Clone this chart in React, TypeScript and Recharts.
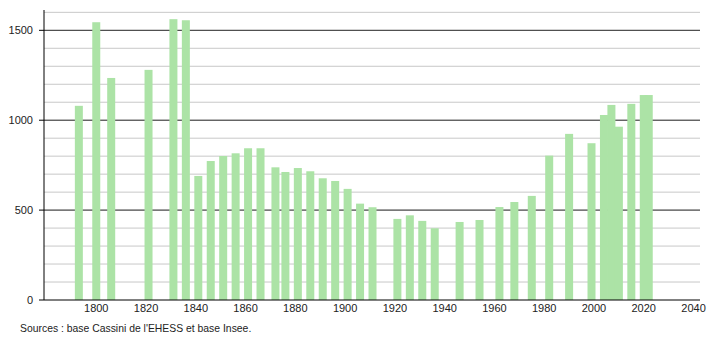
import { BarChart, Bar, XAxis, YAxis, CartesianGrid } from 'recharts';

const years = [
  1793, 1800, 1806, 1821, 1831, 1836, 1841, 1846, 1851, 1856, 1861, 1866, 1872, 1876, 1881,
  1886, 1891, 1896, 1901, 1906, 1911, 1921, 1926, 1931, 1936, 1946, 1954, 1962, 1968, 1975,
  1982, 1990, 1999, 2004, 2007, 2010, 2015, 2020, 2022,
];

const population = [
  1080, 1545, 1235, 1280, 1562, 1556, 690, 773, 801, 816, 844, 844, 738, 712, 734,
  716, 677, 662, 618, 536, 516, 451, 471, 440, 399, 434, 445, 517, 545, 579,
  803, 924, 872, 1029, 1085, 964, 1091, 1140, 1140,
];

const yearTicks = [1800, 1820, 1840, 1860, 1880, 1900, 1920, 1940, 1960, 1980, 2000, 2020, 2040];
const majorTicks = [0, 500, 1000, 1500];
const minorTicks = [0, 100, 200, 300, 400, 500, 600, 700, 800, 900, 1000, 1100, 1200, 1300, 1400, 1500, 1600];
const yMax = 1613;

const data = years.map((year, i) => ({ year, pop: population[i] }));

const font = { fontSize: 11, fill: '#222', fontFamily: '"Liberation Sans", Arial, sans-serif' };

// fixed 8px bars centred on the census year
const FixedBar = (props: any) => {
  const { x, y, width, height } = props;
  if (height == null || height <= 0) return null;
  const cx = x + width / 2;
  return <rect x={cx - 4} y={y} width={8} height={height} fill="#ace3a6" />;
};

const NoLabel = () => <g />;

// horizontal grid lines only at the given values (the 0 line is the axis itself)
const gridAt = (values: number[]) => (args: any) => {
  const { yAxis, offset } = args;
  const s = yAxis?.scale;
  return values
    .filter((v) => v > 0)
    .map((v) => {
      if (typeof s === 'function') return s(v);
      if (s && typeof s.map === 'function') return s.map(v);
      return offset.top + offset.height * (1 - v / yMax);
    });
};

export default function App() {
  return (
    <div style={{ position: 'absolute', left: 0, top: 0, width: 710, height: 340, background: '#fff' }}>
      <BarChart
        width={710}
        height={340}
        data={data}
        margin={{ top: 10, right: 10, left: 8, bottom: 10 }}
      >
        <CartesianGrid
          yAxisId="minor"
          vertical={false}
          stroke="#c8c8c8"
          horizontalCoordinatesGenerator={gridAt(minorTicks)}
        />
        <CartesianGrid
          yAxisId="major"
          vertical={false}
          stroke="#333"
          horizontalCoordinatesGenerator={gridAt(majorTicks)}
        />
        <XAxis
          dataKey="year"
          type="number"
          domain={[1779, 2042.6]}
          ticks={yearTicks}
          allowDataOverflow
          height={30}
          tickLine={false}
          tickSize={0}
          tickMargin={4}
          axisLine={{ stroke: '#000' }}
          tick={font}
          interval={0}
        />
        <YAxis
          yAxisId="minor"
          width={0}
          domain={[0, yMax]}
          ticks={minorTicks}
          allowDataOverflow
          tick={NoLabel}
          tickSize={2}
          tickLine={{ stroke: '#000' }}
          axisLine={{ stroke: '#000' }}
          interval={0}
        />
        <YAxis
          yAxisId="major"
          width={36}
          domain={[0, yMax]}
          ticks={majorTicks}
          allowDataOverflow
          tickSize={5}
          tickMargin={6}
          tickLine={{ stroke: '#000' }}
          axisLine={{ stroke: '#000' }}
          tick={font}
          interval={0}
        />
        <Bar dataKey="pop" yAxisId="minor" shape={FixedBar} isAnimationActive={false} />
      </BarChart>
      <div
        style={{
          position: 'absolute',
          left: 20,
          top: 323,
          fontSize: 10.4,
          color: '#222',
          fontFamily: '"Liberation Sans", Arial, sans-serif',
        }}
      >
        Sources : base Cassini de l'EHESS et base Insee.
      </div>
    </div>
  );
}
